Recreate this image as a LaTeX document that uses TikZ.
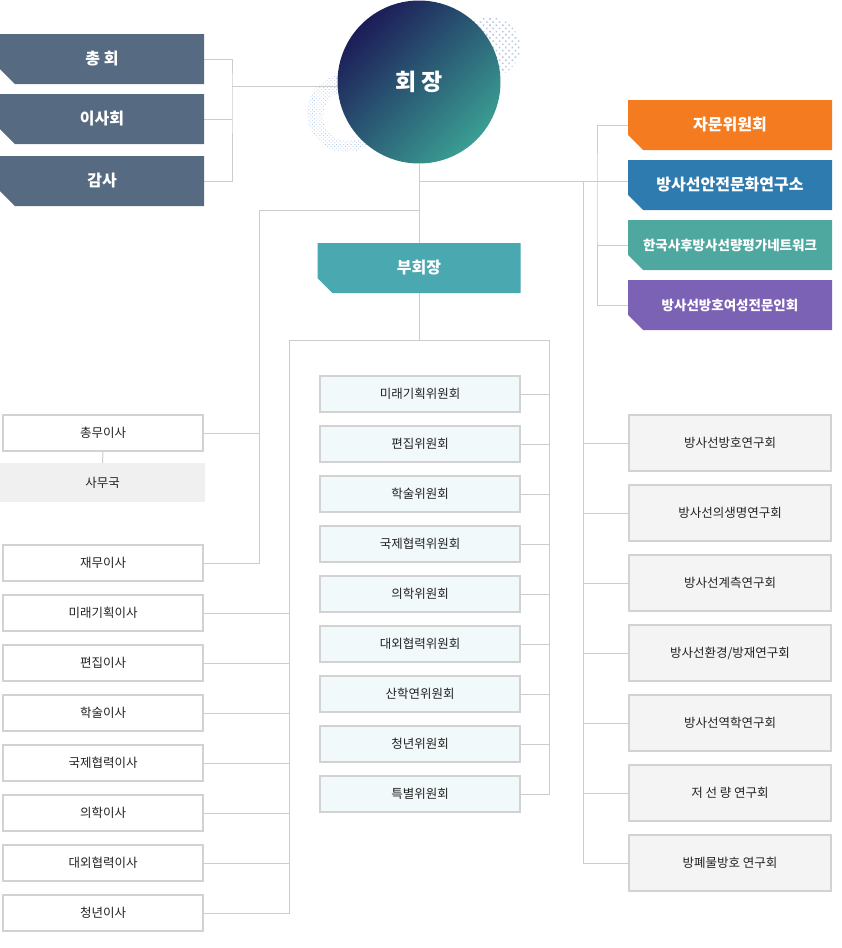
\documentclass[tikz,border=0pt]{standalone}
\usepackage{fontspec}
\setmainfont{Noto Sans CJK KR}
\usetikzlibrary{patterns.meta,backgrounds}

\definecolor{slate}{HTML}{566B82}
\definecolor{orangebox}{HTML}{F47B20}
\definecolor{bluebox}{HTML}{2E7BB0}
\definecolor{tealbox}{HTML}{4FA89F}
\definecolor{purplebox}{HTML}{7C62B4}
\definecolor{vicebox}{HTML}{4AA8B0}
\definecolor{navy}{HTML}{1C1C58}
\definecolor{sea}{HTML}{3A9E93}
\definecolor{linegray}{HTML}{CCCCCC}
\definecolor{boxgray}{HTML}{D2D2D2}
\definecolor{textgray}{HTML}{222222}
\definecolor{wifill}{HTML}{F2F9FB}
\definecolor{yeonfill}{HTML}{F4F4F4}
\definecolor{samufill}{HTML}{F0F0F0}
\definecolor{dotblue}{HTML}{B3C6E4}

\tikzset{
  conn/.style={draw=linegray, line width=1pt},
  tabbox/.style={minimum width=204pt, minimum height=50pt, inner sep=0pt,
    text=white, font=\fontsize{16}{18}\selectfont\bfseries,
    path picture={\fill[#1] (path picture bounding box.north west)
      -- (path picture bounding box.north east)
      -- (path picture bounding box.south east)
      -- ([xshift=15pt]path picture bounding box.south west)
      -- ([yshift=15pt]path picture bounding box.south west) -- cycle;}},
  isabox/.style={draw=boxgray, line width=2pt, fill=white, minimum width=200pt,
    minimum height=36pt, inner sep=0pt, text=textgray,
    font=\fontsize{12.5}{14}\selectfont},
  wibox/.style={isabox, fill=wifill},
  yeonbox/.style={isabox, fill=yeonfill, minimum width=202pt, minimum height=56pt},
  chair/.style={circle, minimum size=163pt, inner sep=0pt, top color=navy,
    bottom color=sea, shading angle=45, text=white,
    font=\fontsize{23}{26}\selectfont\bfseries}
}

\begin{document}
\begin{tikzpicture}[x=1pt,y=1pt]
  \useasboundingbox (0,0) rectangle (842,-948);

  %% top
  \node[chair] (hoejang) at (419,-82) {회 장};

  % left group
  \node[tabbox=slate] (chonghoe) at (102,-59) {총 회};
  \node[tabbox=slate] (isahoe) at (102,-119) {이사회};
  \node[tabbox=slate] (gamsa) at (102,-181) {감사};

  % right group
  \node[tabbox=orangebox] (jamun) at (730,-125) {자문위원회};
  \node[tabbox=bluebox] (ansim) at (730,-185) {방사선안전문화연구소};
  \node[tabbox=tealbox, font=\fontsize{13.5}{15}\selectfont\bfseries] (hanguk) at (730,-245) {한국사후방사선량평가네트워크};
  \node[tabbox=purplebox, font=\fontsize{13.5}{15}\selectfont\bfseries] (yeoseong) at (730,-305) {방사선방호여성전문인회};

  % vice
  \node[tabbox=vicebox, minimum width=203pt] (buhoe) at (419,-268) {부회장};

  %% left column
  \node[isabox] (chongmu) at (103,-433) {총무이사};
  \node[fill=samufill, minimum width=205pt, minimum height=39pt, inner sep=0pt,
    text=textgray, font=\fontsize{12.5}{14}\selectfont] (samu) at (102.5,-482.5) {사무국};
  \node[isabox] (jaemu) at (103,-563) {재무이사};
  \node[isabox] (isa1) at (103,-613) {미래기획이사};
  \node[isabox] (isa2) at (103,-663) {편집이사};
  \node[isabox] (isa3) at (103,-713) {학술이사};
  \node[isabox] (isa4) at (103,-763) {국제협력이사};
  \node[isabox] (isa5) at (103,-813) {의학이사};
  \node[isabox] (isa6) at (103,-863) {대외협력이사};
  \node[isabox] (isa7) at (103,-913) {청년이사};

  %% committees
  \node[wibox] (wi1) at (420,-394) {미래기획위원회};
  \node[wibox] (wi2) at (420,-444) {편집위원회};
  \node[wibox] (wi3) at (420,-494) {학술위원회};
  \node[wibox] (wi4) at (420,-544) {국제협력위원회};
  \node[wibox] (wi5) at (420,-594) {의학위원회};
  \node[wibox] (wi6) at (420,-644) {대외협력위원회};
  \node[wibox] (wi7) at (420,-694) {산학연위원회};
  \node[wibox] (wi8) at (420,-744) {청년위원회};
  \node[wibox] (wi9) at (420,-794) {특별위원회};

  %% study groups
  \node[yeonbox] (yeon1) at (730,-443) {방사선방호연구회};
  \node[yeonbox] (yeon2) at (730,-513) {방사선의생명연구회};
  \node[yeonbox] (yeon3) at (730,-583) {방사선계측연구회};
  \node[yeonbox] (yeon4) at (730,-653) {방사선환경/방재연구회};
  \node[yeonbox] (yeon5) at (730,-723) {방사선역학연구회};
  \node[yeonbox] (yeon6) at (730,-793) {저 선 량 연구회};
  \node[yeonbox] (yeon7) at (730,-863) {방폐물방호 연구회};

  % junctions
  \coordinate (jl) at (232,-86);
  \coordinate (jr) at (419,-181);
  \coordinate (jt) at (597,-181);
  \coordinate (jg) at (583,-181);
  \coordinate (jb) at (419,-210);
  \coordinate (jv) at (259,-210);
  \coordinate (jm) at (419,-340);
  \coordinate (jlt) at (289,-340);
  \coordinate (jrt) at (549,-340);

  \begin{scope}[on background layer]
    % dotted rings
    \path[pattern={Dots[distance=2.6pt,radius=0.6pt,angle=45]}, pattern color=dotblue, even odd rule]
      (346,-113) circle [radius=39] (348,-116) circle [radius=25];
    \path[pattern={Dots[distance=4.5pt,radius=1.1pt,angle=45]}, pattern color=dotblue]
      (490,-47) circle [radius=30];

    % lines
    \draw[conn] (chonghoe.east) -| (jl) |- (gamsa.east);
    \draw[conn] (isahoe.east) -- (isahoe.east -| jl);
    \draw[conn] (jl) -- (jl -| hoejang.west);
    \draw[conn] (hoejang.south) -- (buhoe.north);
    \draw[conn] (jr) -- (jr -| ansim.west);
    \draw[conn] (jamun.west) -| (jt) |- (yeoseong.west);
    \draw[conn] (hanguk.west) -- (hanguk.west -| jt);
    \draw[conn] (jg) |- (yeon7.west);
    \draw[conn] (yeon1.west) -- (yeon1.west -| jg);
    \draw[conn] (yeon2.west) -- (yeon2.west -| jg);
    \draw[conn] (yeon3.west) -- (yeon3.west -| jg);
    \draw[conn] (yeon4.west) -- (yeon4.west -| jg);
    \draw[conn] (yeon5.west) -- (yeon5.west -| jg);
    \draw[conn] (yeon6.west) -- (yeon6.west -| jg);
    \draw[conn] (jb) -- (jv) |- (jaemu.east);
    \draw[conn] (chongmu.east) -- (chongmu.east -| jv);
    \draw[conn] (chongmu.south) -- (samu.north);
    \draw[conn] (buhoe.south) -- (jm);
    \draw[conn] (wi9.east) -| (jrt) -- (jlt) |- (isa7.east);
    \draw[conn] (wi1.east) -- (wi1.east -| jrt);
    \draw[conn] (wi2.east) -- (wi2.east -| jrt);
    \draw[conn] (wi3.east) -- (wi3.east -| jrt);
    \draw[conn] (wi4.east) -- (wi4.east -| jrt);
    \draw[conn] (wi5.east) -- (wi5.east -| jrt);
    \draw[conn] (wi6.east) -- (wi6.east -| jrt);
    \draw[conn] (wi7.east) -- (wi7.east -| jrt);
    \draw[conn] (wi8.east) -- (wi8.east -| jrt);
    \draw[conn] (isa1.east) -- (isa1.east -| jlt);
    \draw[conn] (isa2.east) -- (isa2.east -| jlt);
    \draw[conn] (isa3.east) -- (isa3.east -| jlt);
    \draw[conn] (isa4.east) -- (isa4.east -| jlt);
    \draw[conn] (isa5.east) -- (isa5.east -| jlt);
    \draw[conn] (isa6.east) -- (isa6.east -| jlt);
  \end{scope}
\end{tikzpicture}
\end{document}
